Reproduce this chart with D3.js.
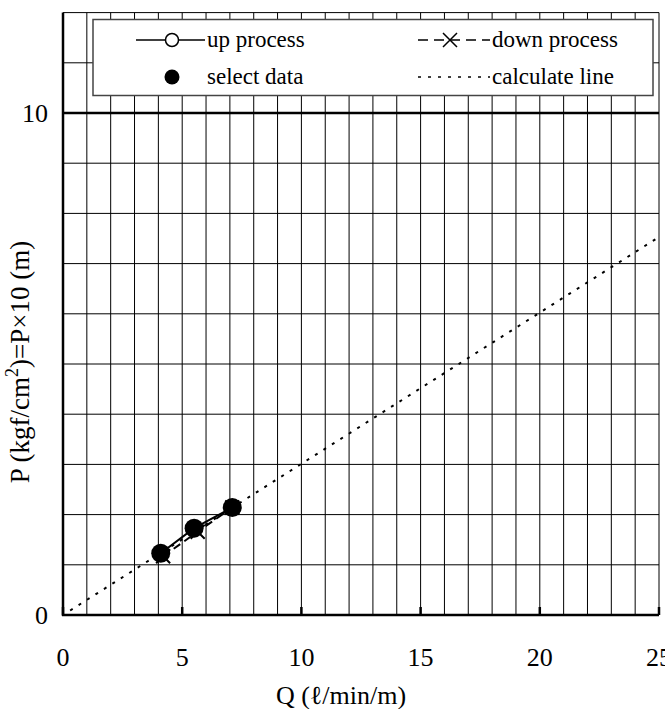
<!DOCTYPE html>
<html>
  <head>
    <meta charset="utf-8">
    <script src="https://cdn.jsdelivr.net/npm/d3@7"></script>
  </head>
  <body>
    <style>
      body{
        margin: 0;
        padding: 0;
        background-color: white;
      }
    </style>
    <div id="chart"></div>
    <script>
      // values
      var xTicks = [0, 5, 10, 15, 20, 25];
      var yTicks = [0, 10];
      var xGrid = [1,2,3,4,5,6,7,8,9,10,11,12,13,14,15,16,17,18,19,20,21,22,23,24,25];
      var yGrid = [1,2,3,4,5,6,7,8,9,10,11,12];

      var upX = [4.1, 5.5, 7.1];
      var upY = [1.23, 1.73, 2.14];
      var downX = [4.2, 5.65, 7.1];
      var downY = [1.17, 1.66, 2.14];
      var selX = [4.1, 5.5, 7.1];
      var selY = [1.23, 1.73, 2.14];
      var calcX = [0.3, 25];
      var calcY = [0.09, 7.53];

      var W = 665, H = 709;
      var serif = "'Times New Roman', 'Liberation Serif', Times, 'DejaVu Serif', serif";
      var svg = d3.select("#chart").append("svg")
        .attr("width", W).attr("height", H)
        .attr("font-family", serif);

      var x = d3.scaleLinear().domain([0, 25]).range([63, 659]);
      var y = d3.scaleLinear().domain([0, 12]).range([615, 12.6]);

      // grid
      var grid = svg.append("g");
      grid.selectAll("line.v").data(xGrid).enter().append("line")
        .attr("x1", function(d){ return x(d); }).attr("x2", function(d){ return x(d); })
        .attr("y1", y(0)).attr("y2", y(12))
        .style("stroke", "#000").style("stroke-width", 1);
      grid.selectAll("line.h").data(yGrid).enter().append("line")
        .attr("x1", x(0)).attr("x2", x(25))
        .attr("y1", function(d){ return y(d); }).attr("y2", function(d){ return y(d); })
        .style("stroke", "#000")
        .style("stroke-width", function(d){ return d === 10 ? 2.5 : 1; });

      // axes frame
      svg.append("line").attr("x1", x(0)).attr("x2", x(0)).attr("y1", y(0) + 1).attr("y2", y(12))
        .style("stroke", "#000").style("stroke-width", 2.5);
      svg.append("line").attr("x1", x(0) - 1).attr("x2", x(25)).attr("y1", y(0)).attr("y2", y(0))
        .style("stroke", "#000").style("stroke-width", 2.5);
      svg.selectAll("line.tk").data(xTicks).enter().append("line")
        .attr("x1", function(d){ return x(d); }).attr("x2", function(d){ return x(d); })
        .attr("y1", y(0)).attr("y2", y(0) - 8)
        .style("stroke", "#000").style("stroke-width", 2.5);

      // tick labels
      svg.selectAll("text.xt").data(xTicks).enter().append("text")
        .attr("x", function(d){ return x(d); }).attr("y", 666)
        .style("text-anchor", "middle").style("font-size", "26px")
        .text(function(d){ return d; });
      svg.selectAll("text.yt").data(yTicks).enter().append("text")
        .attr("x", 48).attr("y", function(d){ return y(d) + 9; })
        .style("text-anchor", "end").style("font-size", "26px")
        .text(function(d){ return d; });

      // axis titles
      svg.append("text").attr("x", 341).attr("y", 704)
        .style("text-anchor", "middle").style("font-size", "26px")
        .text("Q (\u2113/min/m)");
      var yt = svg.append("text")
        .attr("transform", "translate(29,362) rotate(-90)")
        .style("text-anchor", "middle").style("font-size", "27px");
      yt.append("tspan").text("P (kgf/cm");
      yt.append("tspan").attr("dy", -11).style("font-size", "18px").text("2");
      yt.append("tspan").attr("dy", 11).text(")=P\u00d710 (m)");

      var line = d3.line().x(function(d){ return x(d[0]); }).y(function(d){ return y(d[1]); });

      // calculate line
      svg.append("path").datum(d3.zip(calcX, calcY)).attr("d", line)
        .style("fill", "none").style("stroke", "#000").style("stroke-width", 2)
        .style("stroke-dasharray", "3,7");

      // down process
      var down = d3.zip(downX, downY);
      svg.append("path").datum(down).attr("d", line)
        .style("fill", "none").style("stroke", "#000").style("stroke-width", 2)
        .style("stroke-dasharray", "8,5");
      var xMark = "M-7,-7L7,7M-7,7L7,-7";
      svg.selectAll("path.dn").data(down).enter().append("path")
        .attr("transform", function(d){ return "translate(" + x(d[0]) + "," + y(d[1]) + ")"; })
        .attr("d", xMark)
        .style("stroke", "#000").style("stroke-width", 2);

      // up process
      var up = d3.zip(upX, upY);
      svg.append("path").datum(up).attr("d", line)
        .style("fill", "none").style("stroke", "#000").style("stroke-width", 2);
      svg.selectAll("circle.up").data(up).enter().append("circle")
        .attr("cx", function(d){ return x(d[0]); }).attr("cy", function(d){ return y(d[1]); })
        .attr("r", 6.5)
        .style("fill", "none").style("stroke", "#000").style("stroke-width", 1.5);

      // select data
      svg.selectAll("circle.sel").data(d3.zip(selX, selY)).enter().append("circle")
        .attr("cx", function(d){ return x(d[0]); }).attr("cy", function(d){ return y(d[1]); })
        .attr("r", 9.5)
        .style("fill", "#000");

      // legend
      var lg = svg.append("g");
      lg.append("rect").attr("x", 93).attr("y", 19.5).attr("width", 560).attr("height", 76)
        .style("fill", "#fff").style("stroke", "#444").style("stroke-width", 1.5);
      var r1 = 40, r2 = 77;
      lg.append("line").attr("x1", 136).attr("x2", 205).attr("y1", r1).attr("y2", r1)
        .style("stroke", "#000").style("stroke-width", 1.5);
      lg.append("circle").attr("cx", 172).attr("cy", r1).attr("r", 6.5)
        .style("fill", "#fff").style("stroke", "#000").style("stroke-width", 1.5);
      lg.append("text").attr("x", 207).attr("y", r1 + 7).style("font-size", "23px").text("up process");

      lg.append("line").attr("x1", 418).attr("x2", 490).attr("y1", r1).attr("y2", r1)
        .style("stroke", "#000").style("stroke-width", 1.5).style("stroke-dasharray", "10,6");
      lg.append("path").attr("transform", "translate(450," + r1 + ")").attr("d", xMark)
        .style("stroke", "#000").style("stroke-width", 1.5);
      lg.append("text").attr("x", 492).attr("y", r1 + 7).style("font-size", "23px").text("down process");

      lg.append("circle").attr("cx", 172).attr("cy", r2).attr("r", 7.5).style("fill", "#000");
      lg.append("text").attr("x", 207).attr("y", r2 + 7).style("font-size", "23px").text("select data");

      lg.append("line").attr("x1", 418).attr("x2", 490).attr("y1", r2).attr("y2", r2)
        .style("stroke", "#000").style("stroke-width", 1.5).style("stroke-dasharray", "3,7");
      lg.append("text").attr("x", 492).attr("y", r2 + 7).style("font-size", "23px").text("calculate line");
    </script>
  </body>
</html>
